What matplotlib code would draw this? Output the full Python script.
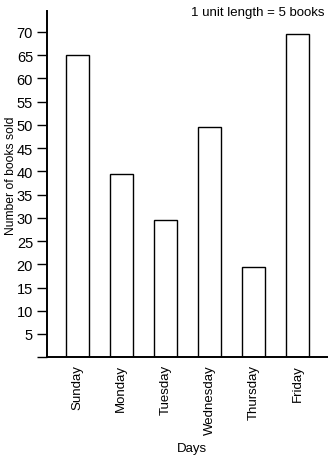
import matplotlib
matplotlib.use("Agg")
import matplotlib.pyplot as plt
import numpy as np

days = ["Sunday", "Monday", "Tuesday", "Wednesday", "Thursday", "Friday"]
books = [65, 39.5, 29.5, 49.5, 19.5, 69.5]
yticks = [5, 10, 15, 20, 25, 30, 35, 40, 45, 50, 55, 60, 65, 70]

plt.rcParams['font.family'] = ['Liberation Sans', 'DejaVu Sans']

fig = plt.figure(figsize=(3.28, 4.64), dpi=100)
ax = fig.add_axes([0.143, 0.228, 0.857, 0.746])

x = np.arange(len(days))
ax.bar(x, books, width=0.53, facecolor='white', edgecolor='black', linewidth=1.0)

ax.set_xlim(-0.69, 5.69)
ax.set_ylim(0, 74.5)
ax.set_yticks([0] + yticks)
ax.set_yticklabels([''] + [str(v) for v in yticks], fontsize=10.5)
ax.set_xticks(x)
ax.set_xticklabels(days, rotation=90, fontsize=9.5)
ax.tick_params(axis='x', length=0, pad=5)
ax.tick_params(axis='y', length=7, width=1, pad=3, direction='out')

for s in ['top', 'right']:
    ax.spines[s].set_visible(False)
for s in ['left', 'bottom']:
    ax.spines[s].set_linewidth(1.4)

ax.set_ylabel("Number of books sold", fontsize=8.7)
ax.yaxis.set_label_coords(-0.105, 0.526)
ax.set_xlabel("Days", fontsize=9.5)
ax.xaxis.set_label_coords(0.516, -0.245)

fig.text(0.99, 0.985, "1 unit length = 5 books", ha='right', va='top', fontsize=9.5)

fig.savefig("out.png", dpi=100)
